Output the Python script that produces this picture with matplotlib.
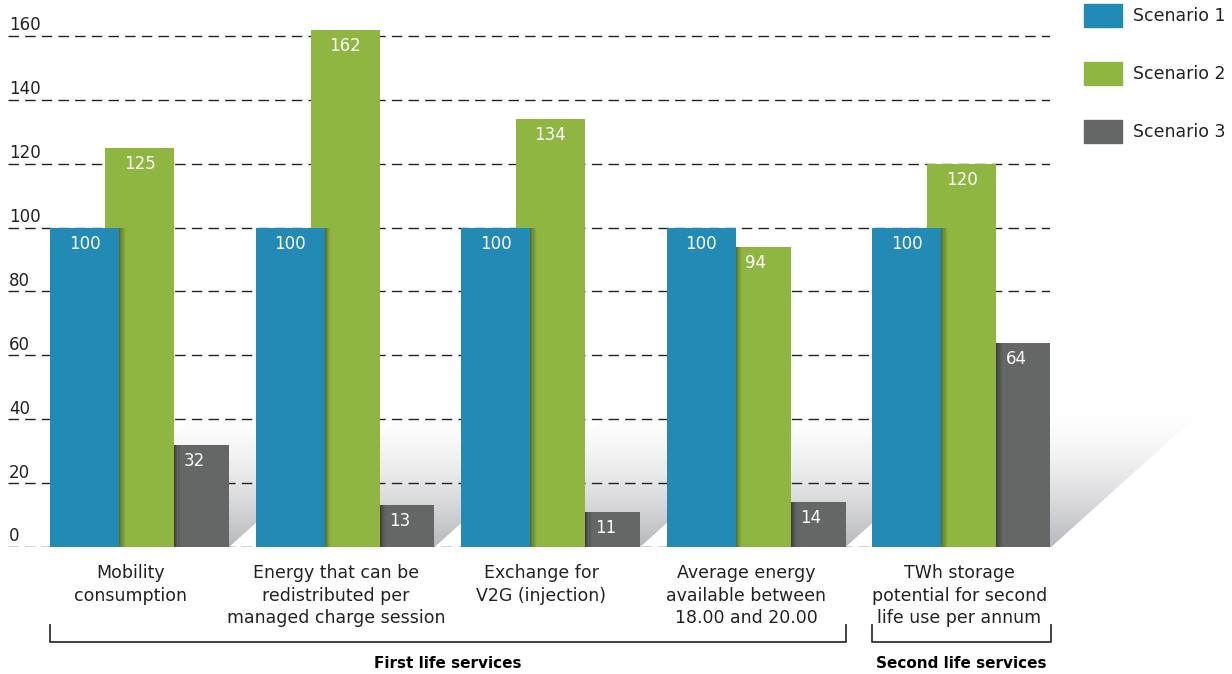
import numpy as np
import matplotlib.pyplot as plt
from matplotlib.patches import Polygon, Rectangle
from matplotlib.transforms import blended_transform_factory, ScaledTranslation

# data
categories = ['Mobility\nconsumption',
              'Energy that can be\nredistributed per\nmanaged charge session',
              'Exchange for\nV2G (injection)',
              'Average energy\navailable between\n18.00 and 20.00',
              'TWh storage\npotential for second\nlife use per annum']
scenario_1 = [100, 100, 100, 100, 100]
scenario_2 = [125, 162, 134, 94, 120]
scenario_3 = [32, 13, 11, 14, 64]
series_names = ['Scenario 1', 'Scenario 2', 'Scenario 3']
y_ticks = [0, 20, 40, 60, 80, 100, 120, 140, 160]
group_titles = ['First life services', 'Second life services']
group_spans = [(0, 3), (4, 4)]

colors = ['#238ab5', '#8fb640', '#656766']

FONT = 'DejaVu Sans'
W, H = 1232, 674
fig = plt.figure(figsize=(W / 100, H / 100), dpi=100)
ax = fig.add_axes([8 / W, 1 - 547 / H, (1050 - 8) / W, (547 - 4) / H])

x = np.arange(len(categories))
step = 55 / 205.5      # offset between bars of a group
width = 69 / 205.5     # bars overlap a little
series = [scenario_1, scenario_2, scenario_3]
xlim = (-131.5 / 205.5, (1050 - 139.5) / 205.5)
ylim = (0, 543 / 3.194)

# floor shadow behind each group: slanted band with a vertical grey gradient
sh_dx, sh_dy = 0.76, 44
n_band = 80
bottom_col = np.array([182, 183, 187]) / 255
edges = np.linspace(0, sh_dy, n_band + 1)
for i in range(len(categories)):
    x0 = x[i] - step - width / 2
    x1 = x[i] + step + width / 2
    for j in range(n_band):
        ya, yb = edges[j], min(edges[j + 1] + 0.3, sh_dy)
        f = (1 - (ya + yb) / 2 / sh_dy) ** 1.6
        col = 1 - f * (1 - bottom_col)
        sa, sb = sh_dx * ya / sh_dy, sh_dx * yb / sh_dy
        ax.add_patch(Polygon([(x0 + sa, ya), (x1 + sa, ya), (x1 + sb, yb), (x0 + sb, yb)],
                             closed=True, facecolor=col, edgecolor='none',
                             zorder=0.5, clip_on=False))

# dashed gridlines
for t in y_ticks:
    ax.axhline(t, color='#222222', lw=1.0, dashes=(7.5, 4.5), zorder=1)

trans_lbl = blended_transform_factory(ax.transAxes, ax.transData)
for t in y_ticks:
    ax.text(0.001, t + 0.5, str(t), transform=trans_lbl, ha='left', va='bottom',
            fontsize=12, color='#222222', family=FONT)

# bars: scenario 3 at the back, scenario 1 in front
for k in (2, 1, 0):
    ax.bar(x + (k - 1) * step, series[k], width=width, color=colors[k],
           zorder=2 + (2 - k), linewidth=0)

# soft shadow of each front bar on the bar behind it
n_strip = 6
sw = (7 / 205.5) / n_strip
for k in (0, 1):
    front = np.array(series[k])
    back = np.array(series[k + 1])
    hh = np.minimum(front, back)
    edge = x + (k - 1) * step + width / 2
    for j in range(n_strip):
        ax.bar(edge + sw * (j + 0.5), hh, width=sw, color='black',
               alpha=0.38 * (1 - j / n_strip) ** 1.5, linewidth=0, zorder=2 + (2 - k) - 0.5)

# value labels in white inside the bars
for k in range(3):
    for i, v in enumerate(series[k]):
        ax.text(x[i] + (k - 1) * step, v - 5, str(v), ha='center', va='center',
                color='white', fontsize=12, family=FONT, zorder=6)

ax.set_xlim(*xlim)
ax.set_ylim(*ylim)
ax.set_xticks(x)
ax.set_xticklabels(categories, fontsize=12.5, family=FONT, color='#222222',
                   linespacing=1.3)
ax.tick_params(axis='x', length=0, pad=12.5)
label_shift = [-9, -9, -9, -10, -2]
for lbl, dx in zip(ax.get_xticklabels(), label_shift):
    lbl.set_transform(lbl.get_transform() + ScaledTranslation(dx / 100, 0, fig.dpi_scale_trans))
ax.set_yticks([])
for s in ax.spines.values():
    s.set_visible(False)

# brackets and group titles under the categories
for (a, b), title in zip(group_spans, group_titles):
    xa = x[a] - step - width / 2
    xb = x[b] + step + width / 2
    ax.plot([xa, xa, xb, xb], [-24.5, -29.6, -29.6, -24.5], color='#333333',
            lw=1.3, clip_on=False, zorder=5)
    ax.text((xa + xb) / 2, -36.5, title, ha='center', va='center', fontsize=11,
            fontweight='bold', family=FONT, color='black')

# legend
handles = [Rectangle((0, 0), 1, 1, color=c) for c in colors]
fig.legend(handles, series_names, loc='upper left',
           bbox_to_anchor=(1084 / W, 1 - 4 / H), frameon=False,
           prop={'family': FONT, 'size': 12.5}, borderpad=0, borderaxespad=0,
           handlelength=2.2, handleheight=1.65, handletextpad=0.6,
           labelspacing=2.03, labelcolor='#222222')

fig.savefig('out.png', dpi=100)
